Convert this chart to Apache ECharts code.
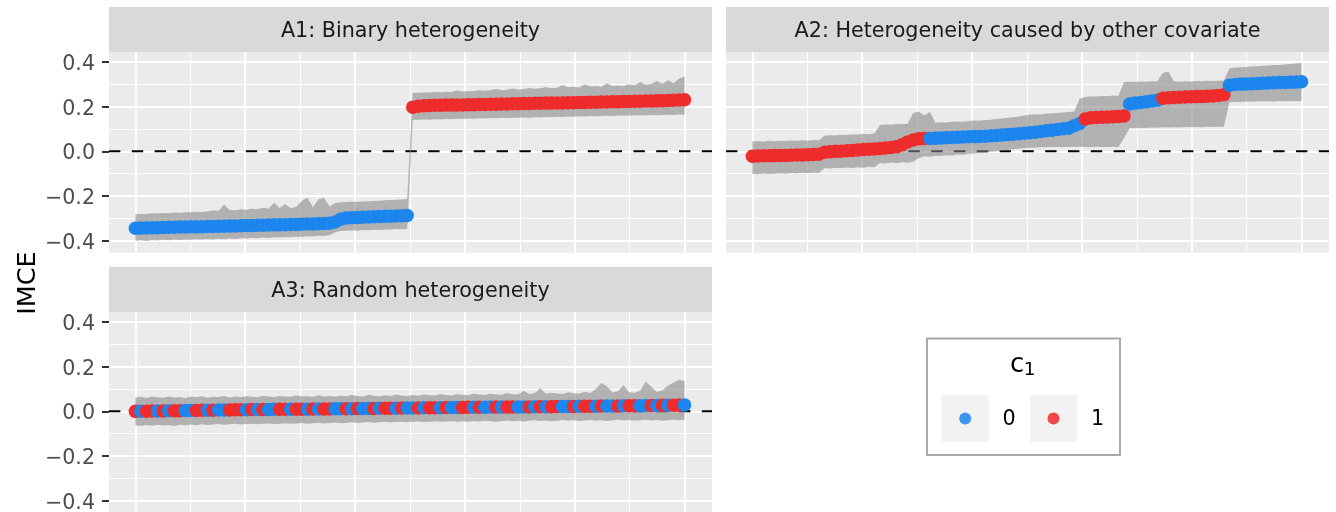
<!DOCTYPE html>
<html><head><meta charset="utf-8">
<script src="https://cdn.jsdelivr.net/npm/echarts@6/dist/echarts.min.js"></script>
<style>html,body{margin:0;padding:0;background:#fff}#c{width:1336px;height:512px}</style>
</head><body><div id="c"></div>
<script>
// ---------- text / ticks ----------
const panelTitles = ['A1: Binary heterogeneity', 'A2: Heterogeneity caused by other covariate', 'A3: Random heterogeneity'];
const yTickValues = [-0.4, -0.2, 0, 0.2, 0.4];
const yMinorValues = [-0.3, -0.1, 0.1, 0.3];
const xMajorValues = [0, 0.2, 0.4, 0.6, 0.8, 1.0];
const xMinorValues = [0.1, 0.3, 0.5, 0.7, 0.9];
const legendLevels = ['0', '1'];
const yTitle = 'IMCE';
const hlineY = 0;

// ---------- A1 ----------
const a1Mean = [
-0.344,-0.343,-0.343,-0.342,-0.342,-0.341,-0.340,-0.340,-0.339,-0.339,
-0.338,-0.338,-0.337,-0.336,-0.336,-0.335,-0.335,-0.334,-0.334,-0.333,
-0.332,-0.332,-0.331,-0.331,-0.330,-0.329,-0.329,-0.328,-0.327,-0.327,
-0.326,-0.325,-0.325,-0.324,-0.323,-0.322,-0.316,-0.304,-0.298,-0.297,
-0.296,-0.295,-0.294,-0.293,-0.292,-0.291,-0.290,-0.289,-0.288,-0.287,
0.198,0.202,0.204,0.205,0.206,0.206,0.207,0.207,0.208,0.208,
0.209,0.209,0.210,0.210,0.211,0.211,0.212,0.212,0.213,0.213,
0.214,0.214,0.215,0.215,0.216,0.216,0.217,0.217,0.218,0.218,
0.219,0.219,0.220,0.220,0.221,0.221,0.222,0.222,0.223,0.223,
0.224,0.224,0.225,0.225,0.226,0.227,0.228,0.229,0.230,0.231];
const a1Lo = [
-0.400,-0.398,-0.401,-0.397,-0.399,-0.396,-0.398,-0.395,-0.397,-0.394,
-0.396,-0.393,-0.395,-0.392,-0.394,-0.391,-0.393,-0.390,-0.392,-0.389,
-0.390,-0.388,-0.389,-0.386,-0.388,-0.385,-0.386,-0.383,-0.385,-0.382,
-0.383,-0.380,-0.381,-0.378,-0.379,-0.376,-0.362,-0.356,-0.355,-0.354,
-0.355,-0.352,-0.353,-0.351,-0.352,-0.350,-0.350,-0.348,-0.349,-0.347,
0.142,0.141,0.143,0.142,0.144,0.143,0.145,0.144,0.146,0.145,
0.147,0.146,0.148,0.147,0.149,0.148,0.150,0.149,0.151,0.150,
0.152,0.151,0.153,0.152,0.154,0.153,0.155,0.154,0.156,0.155,
0.157,0.156,0.158,0.157,0.158,0.159,0.158,0.160,0.159,0.161,
0.160,0.162,0.161,0.163,0.162,0.163,0.164,0.163,0.165,0.164];
const a1Hi = [
-0.281,-0.279,-0.280,-0.277,-0.278,-0.276,-0.277,-0.274,-0.275,-0.272,
-0.273,-0.270,-0.271,-0.268,-0.265,-0.266,-0.238,-0.262,-0.264,-0.259,
-0.261,-0.257,-0.259,-0.252,-0.257,-0.230,-0.254,-0.236,-0.255,-0.248,
-0.222,-0.206,-0.250,-0.214,-0.208,-0.247,-0.232,-0.228,-0.227,-0.226,
-0.225,-0.224,-0.223,-0.222,-0.221,-0.219,-0.218,-0.217,-0.215,-0.213,
0.261,0.262,0.264,0.263,0.266,0.265,0.267,0.266,0.272,0.268,
0.270,0.269,0.274,0.271,0.273,0.279,0.274,0.276,0.281,0.277,
0.279,0.284,0.280,0.282,0.288,0.283,0.285,0.296,0.287,0.289,
0.286,0.300,0.290,0.292,0.289,0.305,0.293,0.295,0.292,0.300,
0.296,0.310,0.298,0.302,0.315,0.303,0.318,0.306,0.325,0.335];
const a1Group = [
0,0,0,0,0,0,0,0,0,0, 0,0,0,0,0,0,0,0,0,0, 0,0,0,0,0,0,0,0,0,0, 0,0,0,0,0,0,0,0,0,0, 0,0,0,0,0,0,0,0,0,0,
1,1,1,1,1,1,1,1,1,1, 1,1,1,1,1,1,1,1,1,1, 1,1,1,1,1,1,1,1,1,1, 1,1,1,1,1,1,1,1,1,1, 1,1,1,1,1,1,1,1,1,1];

// ---------- A2 ----------
const a2Mean = [
-0.022,-0.021,-0.020,-0.020,-0.019,-0.018,-0.018,-0.017,-0.016,-0.016,-0.015,-0.014,-0.013,
-0.004,-0.002,0.000,0.001,0.003,0.004,0.006,0.008,0.009,0.011,0.013,0.015,0.017,
0.021,0.030,0.042,0.051,0.056,0.058,
0.058,0.059,0.060,0.061,0.062,0.063,0.064,0.065,0.066,0.067,0.068,0.070,0.071,0.073,0.075,0.077,0.079,0.081,0.083,0.086,0.089,0.092,0.095,0.098,0.101,0.104,0.115,0.125,
0.145,0.150,0.152,0.153,0.154,0.155,0.156,0.158,
0.212,0.216,0.219,0.222,0.225,0.229,
0.238,0.240,0.241,0.242,0.243,0.244,0.245,0.246,0.247,0.248,0.250,0.253,
0.296,0.299,0.301,0.302,0.303,0.304,0.305,0.306,0.307,0.308,0.308,0.309,0.310,0.312];
const a2Lo = [
-0.100,-0.102,-0.099,-0.101,-0.100,-0.098,-0.100,-0.097,-0.099,-0.096,-0.098,-0.095,-0.097,
-0.075,-0.077,-0.073,-0.076,-0.072,-0.074,-0.071,-0.073,-0.069,-0.071,
-0.052,-0.054,-0.050,-0.053,-0.049,-0.051,-0.047,
-0.030,-0.022,-0.024,-0.020,-0.021,-0.017,-0.018,-0.014,-0.015,-0.011,-0.010,-0.007,-0.006,
-0.002,0.001,0.004,0.006,0.009,0.012,0.014,0.016,0.017,0.018,0.018,0.019,0.019,0.020,0.020,0.021,0.021,
0.020,0.019,0.021,0.020,0.019,0.021,0.020,
0.060,0.105,0.104,0.106,0.105,0.107,0.106,0.108,0.107,0.108,0.107,0.109,0.108,0.109,0.108,0.110,0.109,0.110,0.110,
0.220,0.222,0.221,0.223,0.222,0.224,0.223,0.224,0.223,0.225,0.224,0.225,0.224,0.225];
const a2Hi = [
0.044,0.046,0.043,0.047,0.045,0.048,0.046,0.049,0.047,0.050,0.048,0.051,0.050,
0.070,0.072,0.071,0.074,0.073,0.076,0.075,0.078,0.077,0.080,
0.118,0.120,0.119,0.122,0.121,0.124,
0.172,0.178,0.160,0.176,
0.128,0.130,0.129,0.132,0.134,0.133,0.136,0.138,0.137,0.140,0.142,0.145,0.147,0.150,0.153,0.156,0.160,
0.164,0.166,0.165,0.169,0.170,0.172,0.174,0.176,0.178,
0.235,0.243,0.246,0.245,0.248,0.247,0.250,0.249,
0.310,0.312,0.311,0.313,0.312,0.314,0.313,0.352,0.356,0.313,0.312,0.314,0.313,0.315,0.314,0.316,0.315,0.316,0.317,
0.372,0.375,0.377,0.378,0.380,0.381,0.383,0.384,0.386,0.387,0.389,0.391,0.393,0.396];
const a2Group = [
1,1,1,1,1,1,1,1,1,1, 1,1,1,1,1,1,1,1,1,1, 1,1,1,1,1,1,1,1,1,1, 1,1,
0,0,0,0,0,0,0,0,0,0, 0,0,0,0,0,0,0,0,0,0, 0,0,0,0,0,0,0,0,
1,1,1,1,1,1,1,1,
0,0,0,0,0,0,
1,1,1,1,1,1,1,1,1,1,1,1,
0,0,0,0,0,0,0,0,0,0,0,0,0,0];

// ---------- A3 ----------
const a3Mean = [
0.000,0.001,0.001,0.002,0.002,0.002,0.003,0.003,0.003,0.004,
0.004,0.004,0.005,0.005,0.005,0.006,0.006,0.006,0.007,0.007,
0.007,0.008,0.008,0.008,0.008,0.009,0.009,0.009,0.010,0.010,
0.010,0.010,0.011,0.011,0.011,0.011,0.012,0.012,0.012,0.012,
0.013,0.013,0.013,0.013,0.014,0.014,0.014,0.014,0.015,0.015,
0.015,0.015,0.016,0.016,0.016,0.016,0.017,0.017,0.017,0.017,
0.018,0.018,0.018,0.018,0.019,0.019,0.019,0.019,0.020,0.020,
0.020,0.020,0.021,0.021,0.021,0.021,0.022,0.022,0.022,0.022,
0.023,0.023,0.023,0.023,0.024,0.024,0.024,0.024,0.025,0.025,
0.025,0.025,0.026,0.026,0.026,0.027,0.027,0.027,0.028,0.029];
const a3Lo = [
-0.062,-0.066,-0.061,-0.064,-0.060,-0.063,-0.061,-0.065,-0.060,-0.062,
-0.059,-0.062,-0.058,-0.061,-0.059,-0.057,-0.060,-0.058,-0.056,-0.059,
-0.057,-0.055,-0.058,-0.056,-0.054,-0.057,-0.055,-0.053,-0.056,-0.054,
-0.052,-0.055,-0.053,-0.051,-0.054,-0.052,-0.050,-0.053,-0.051,-0.049,
-0.052,-0.050,-0.048,-0.051,-0.049,-0.047,-0.050,-0.048,-0.046,-0.049,
-0.047,-0.045,-0.048,-0.046,-0.044,-0.047,-0.045,-0.043,-0.046,-0.044,
-0.046,-0.043,-0.045,-0.042,-0.044,-0.046,-0.043,-0.041,-0.044,-0.042,
-0.045,-0.042,-0.040,-0.043,-0.041,-0.044,-0.042,-0.039,-0.042,-0.040,
-0.043,-0.041,-0.039,-0.042,-0.040,-0.043,-0.041,-0.038,-0.041,-0.039,
-0.042,-0.040,-0.038,-0.041,-0.039,-0.042,-0.040,-0.037,-0.040,-0.038];
const a3Hi = [
0.062,0.065,0.060,0.066,0.063,0.061,0.067,0.062,0.064,0.060,
0.066,0.063,0.068,0.061,0.065,0.064,0.069,0.062,0.066,0.064,
0.068,0.065,0.063,0.070,0.066,0.064,0.069,0.067,0.065,0.071,
0.066,0.068,0.064,0.072,0.067,0.069,0.065,0.070,0.068,0.073,
0.069,0.067,0.074,0.070,0.068,0.072,0.069,0.075,0.071,0.069,
0.073,0.070,0.076,0.072,0.071,0.078,0.073,0.071,0.077,0.074,
0.072,0.079,0.075,0.073,0.080,0.076,0.074,0.082,0.077,0.075,
0.092,0.078,0.081,0.105,0.079,0.083,0.080,0.078,0.086,0.081,
0.079,0.088,0.082,0.100,0.127,0.112,0.084,0.090,0.118,0.085,
0.083,0.092,0.134,0.110,0.087,0.095,0.115,0.128,0.142,0.136];
const a3Group = [
1,0,1,1,0,1,0,1,1,0, 0,1,1,0,1,0,0,1,1,1, 0,1,0,1,0,0,1,1,0,1, 1,0,1,0,1,1,0,0,1,0,
1,0,0,1,0,1,1,0,1,0, 0,1,0,1,1,0,1,0,0,1, 1,0,1,0,0,1,0,1,1,0, 0,1,0,1,0,1,1,0,0,1,
0,1,1,0,1,0,0,1,0,1, 1,0,0,1,0,1,0,1,1,0];

// ---------- styling / layout ----------
const FONT = '"DejaVu Sans", sans-serif';
const COLORS = ['#1C86EE', '#EE2C2C'];
const RIBBON = 'rgba(135,135,135,0.58)';
const X_MIN = -0.048, X_MAX = 1.05;
const Y_MIN = -0.4536, Y_MAX = 0.4434;
const PANELS = [
  {left: 109, top: 52.3, mean: a1Mean, lo: a1Lo, hi: a1Hi, grp: a1Group, yLabels: true},
  {left: 726, top: 52.3, mean: a2Mean, lo: a2Lo, hi: a2Hi, grp: a2Group, yLabels: false},
  {left: 109, top: 312.3, mean: a3Mean, lo: a3Lo, hi: a3Hi, grp: a3Group, yLabels: true}
];
const PW = 603, PH = 200.4, STRIP_H = 45.4;

const fmt = v => (v < 0 ? '\u2212' : '') + Math.abs(v).toFixed(1);

const grids = [], xAxes = [], yAxes = [], series = [], graphics = [];
PANELS.forEach((p, k) => {
  grids.push({left: p.left, top: p.top, width: PW, height: PH, show: true,
    backgroundColor: '#EBEBEB', borderWidth: 0, containLabel: false, outerBoundsMode: 'none'});
  const base = {type: 'value', gridIndex: k, min: X_MIN, max: X_MAX,
    axisLine: {show: false, onZero: false}, axisLabel: {show: false}};
  xAxes.push(Object.assign({}, base, {axisTick: {show: false, customValues: xMajorValues},
    splitLine: {show: true, lineStyle: {color: '#FFFFFF', width: 1.9}}}));
  xAxes.push(Object.assign({}, base, {axisTick: {show: false, customValues: xMinorValues},
    splitLine: {show: true, lineStyle: {color: '#FFFFFF', width: 1.0}}}));
  yAxes.push({type: 'value', gridIndex: k, min: Y_MIN, max: Y_MAX, position: 'left',
    axisLine: {show: false, onZero: false},
    axisTick: {show: p.yLabels, customValues: yTickValues, length: 7, lineStyle: {color: '#333333', width: 2}},
    axisLabel: {show: p.yLabels, customValues: yTickValues, margin: 14, color: '#4D4D4D',
      fontSize: 20.6, fontFamily: FONT, formatter: fmt, verticalAlign: 'top', lineHeight: 5},
    splitLine: {show: true, lineStyle: {color: '#FFFFFF', width: 1.9}}});
  yAxes.push({type: 'value', gridIndex: k, min: Y_MIN, max: Y_MAX, position: 'left',
    axisLine: {show: false, onZero: false},
    axisTick: {show: false, customValues: yMinorValues}, axisLabel: {show: false},
    splitLine: {show: true, lineStyle: {color: '#FFFFFF', width: 1.0}}});

  const xi = 2 * k, yi = 2 * k, n = p.mean.length;
  const xs = p.mean.map((_, i) => i / (n - 1));
  const lo = p.lo, hi = p.hi;
  // dashed reference line at 0
  series.push({type: 'line', xAxisIndex: xi, yAxisIndex: yi, z: 1, silent: true, symbol: 'none',
    data: [[X_MIN, hlineY], [X_MAX, hlineY]],
    lineStyle: {color: '#000000', width: 2, type: [11.4, 11.4]}});
  // ribbon polygon through the axes' coordinate mapping
  series.push({type: 'custom', xAxisIndex: xi, yAxisIndex: yi, z: 2, silent: true, clip: true,
    data: [[0.5, 0]],
    renderItem: (params, api) => {
      const pts = [];
      for (let i = 0; i < n; i++) pts.push(api.coord([xs[i], hi[i]]));
      for (let i = n - 1; i >= 0; i--) pts.push(api.coord([xs[i], lo[i]]));
      return {type: 'polygon', shape: {points: pts}, style: {fill: RIBBON}};
    }});
  // points
  const grp = p.grp;
  series.push({type: 'scatter', xAxisIndex: xi, yAxisIndex: yi, z: 3, silent: true,
    symbolSize: 13.5, data: p.mean.map((v, i) => [xs[i], v]),
    itemStyle: {color: prm => COLORS[grp[prm.dataIndex]], opacity: 1}});

  // strip
  graphics.push({type: 'rect', shape: {x: p.left, y: p.top - STRIP_H, width: PW, height: STRIP_H},
    style: {fill: '#D9D9D9'}, silent: true});
  graphics.push({type: 'text', x: p.left + PW / 2, y: p.top - STRIP_H / 2 + 2.4, silent: true,
    style: {text: panelTitles[k], font: '20.7px ' + FONT, fill: '#1A1A1A',
      align: 'center', verticalAlign: 'middle', textAlign: 'center', textVerticalAlign: 'middle'}});
});

// y title
graphics.push({type: 'text', x: 28.3, y: 283, rotation: Math.PI / 2, silent: true,
  style: {text: yTitle, font: '25.5px ' + FONT, fill: '#000000',
    align: 'center', verticalAlign: 'middle', textAlign: 'center', textVerticalAlign: 'middle'}});

// legend
graphics.push({type: 'rect', shape: {x: 927, y: 338.5, width: 193, height: 116.5},
  style: {fill: '#FFFFFF', stroke: '#A9A9A9', lineWidth: 2}, silent: true});
graphics.push({type: 'text', x: 1017, y: 365, silent: true,
  style: {text: 'c', font: '25.9px ' + FONT, fill: '#000000',
    align: 'center', verticalAlign: 'middle', textAlign: 'center', textVerticalAlign: 'middle'}});
graphics.push({type: 'text', x: 1029.7, y: 370.5, silent: true,
  style: {text: '1', font: '18.4px ' + FONT, fill: '#000000',
    align: 'center', verticalAlign: 'middle', textAlign: 'center', textVerticalAlign: 'middle'}});
const keyX = [941.7, 1030];
const labX = [1009.2, 1097.5];
legendLevels.forEach((lv, j) => {
  graphics.push({type: 'rect', shape: {x: keyX[j], y: 395, width: 47, height: 47},
    style: {fill: '#F2F2F2'}, silent: true});
  graphics.push({type: 'circle', shape: {cx: keyX[j] + 23.5, cy: 418.6, r: 6},
    style: {fill: COLORS[j], opacity: 0.85}, silent: true});
  graphics.push({type: 'text', x: labX[j], y: 419.6, silent: true,
    style: {text: lv, font: '20.7px ' + FONT, fill: '#000000',
      align: 'center', verticalAlign: 'middle', textAlign: 'center', textVerticalAlign: 'middle'}});
});

const chart = echarts.init(document.getElementById('c'), null, {renderer: 'canvas'});
chart.setOption({
  animation: false,
  backgroundColor: '#FFFFFF',
  grid: grids, xAxis: xAxes, yAxis: yAxes, series: series,
  graphic: {elements: graphics}
});
</script>
</body></html>
